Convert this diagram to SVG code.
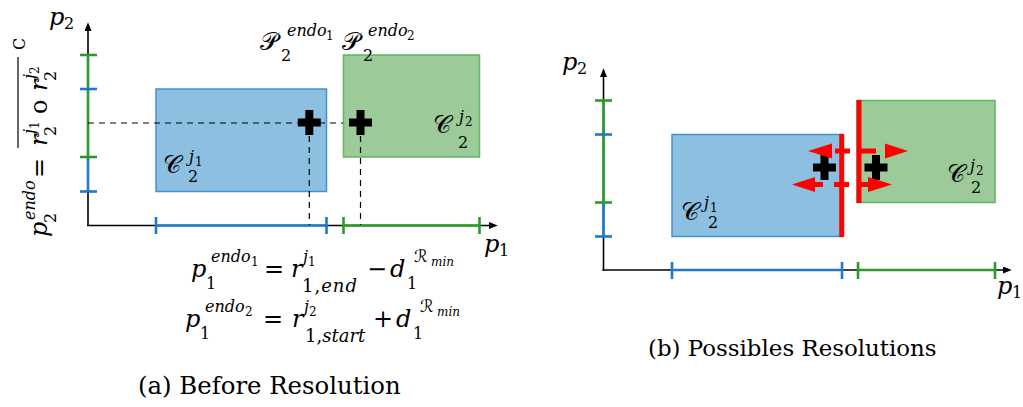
<svg xmlns="http://www.w3.org/2000/svg" width="1023" height="407" viewBox="0 0 1023 407" font-family="'DejaVu Serif', serif">
<style>
text{font-family:"DejaVu Serif","Liberation Serif",serif;fill:#000}
.i{font-style:italic;font-size:24px}
.n{font-style:normal;font-size:24px}
.s{font-size:16px}
.ss{font-size:12px}
.si{font-style:italic;font-size:16px}
.ssi{font-style:italic;font-size:12px}
.cal{font-family:"DejaVu Serif","DejaVu Sans","Noto Sans",serif;font-style:normal;font-size:25px}
.cap{font-size:24px;font-style:normal}
.ax{stroke:#000;stroke-width:1.6;fill:none}
.bl{stroke:#1f78c8;stroke-width:2.6;fill:none}
.gr{stroke:#2a9a2a;stroke-width:2.6;fill:none}
.brect{fill:#8cbfe0;stroke:#3f92d8;stroke-width:1.5}
.grect{fill:#9ccb99;stroke:#62b562;stroke-width:1.5}
.dash{stroke:#000;stroke-width:1.2;stroke-dasharray:6,5;fill:none}
.red{stroke:#ff0000;stroke-width:5;fill:none}
.rdash{stroke:#ff0000;stroke-width:5;stroke-dasharray:15,11;fill:none}
.rhead{fill:#ff0000}
</style>
<defs>
<path id="plus" d="M-11.5,-4H-4V-12.5H4V-4H11.5V4H4V12.5H-4V4H-11.5Z" fill="#000"/>
<marker id="arr" viewBox="0 0 10 8" refX="0" refY="4" markerWidth="9" markerHeight="7" markerUnits="userSpaceOnUse" orient="auto">
<path d="M0,0L10,4L0,8Z" fill="#000"/>
</marker>
</defs>

<!-- ===== Panel (a) ===== -->
<g id="a-rect-j1"><rect class="brect" x="156" y="89" width="170.5" height="102.5"/>
<text x="163" y="173" class="cal">𝒞</text><text x="189" y="162" class="si">j</text><text x="195" y="166" class="ss">1</text><text x="188" y="182" class="s">2</text></g>
<g id="a-rect-j2"><rect class="grect" x="343.5" y="55" width="136" height="102"/>
<text x="433" y="133" class="cal">𝒞</text><text x="459" y="122" class="si">j</text><text x="465" y="126" class="ss">2</text><text x="458" y="148" class="s">2</text></g>

<g id="a-axes">
<line class="ax" x1="88" y1="226" x2="88" y2="31" marker-end="url(#arr)" stroke="#555"/>
<line class="ax" x1="87" y1="225.5" x2="489" y2="225.5" marker-end="url(#arr)"/>
<line class="gr" x1="88" y1="55" x2="88" y2="157"/>
<line class="bl" x1="88" y1="157" x2="88" y2="191.5"/>
<line class="gr" x1="80" y1="55" x2="97" y2="55"/><line class="gr" x1="80" y1="157" x2="97" y2="157"/>
<line class="bl" x1="80" y1="89" x2="97" y2="89"/><line class="bl" x1="80" y1="191.5" x2="97" y2="191.5"/>
<line class="bl" x1="156" y1="225.5" x2="326.5" y2="225.5"/>
<line class="bl" x1="156" y1="217" x2="156" y2="234"/><line class="bl" x1="326.5" y1="217" x2="326.5" y2="234"/>
<line class="gr" x1="343.5" y1="225.5" x2="479.5" y2="225.5"/>
<line class="gr" x1="343.5" y1="217" x2="343.5" y2="234"/><line class="gr" x1="479.5" y1="217" x2="479.5" y2="234"/>
<text x="49" y="25" class="i">p</text><text x="64" y="29" class="s">2</text>
<text x="484" y="252" class="i">p</text><text x="499" y="256" class="s">1</text>
</g>

<g id="a-connectors">
<line class="dash" x1="88" y1="123" x2="343" y2="123"/>
<line class="dash" x1="309.3" y1="136" x2="309.3" y2="225"/>
<line class="dash" x1="360.5" y1="136" x2="360.5" y2="225"/>
</g>

<g id="a-point1"><use href="#plus" x="309.3" y="122.5"/>
<text x="260" y="50" class="cal">𝒫</text><text x="281" y="61" class="s">2</text><text x="287" y="36" class="si">endo</text><text x="326" y="40" class="ss">1</text></g>
<g id="a-point2"><use href="#plus" x="360.5" y="122.5"/>
<text x="342" y="50" class="cal">𝒫</text><text x="363" y="61" class="s">2</text><text x="368" y="36" class="si">endo</text><text x="407" y="40" class="ss">2</text></g>

<g id="a-ylabel" transform="translate(47,237) rotate(-90)">
<text x="0" y="0" class="i">p</text><text x="14" y="9" class="s">2</text><text x="17" y="-12" class="si">endo</text>
<text x="59" y="0" class="n">=</text>
<text x="91" y="0" class="i">r</text><text x="103" y="-12" class="si">j</text><text x="108" y="-8" class="ss">1</text><text x="101" y="9" class="s">2</text>
<text x="123" y="0" class="n">o</text>
<text x="146" y="0" class="i">r</text><text x="158" y="-12" class="si">j</text><text x="163" y="-8" class="ss">2</text><text x="156" y="9" class="s">2</text>
<line x1="89" y1="-29" x2="180" y2="-29" stroke="#000" stroke-width="1.2"/>
<text x="187" y="-22" class="s">C</text>
</g>

<g id="a-eq1">
<text x="191" y="277" class="i">p</text><text x="206" y="289" class="s">1</text><text x="211" y="262" class="si">endo</text><text x="251" y="266" class="ss">1</text>
<text x="264" y="277" class="n">=</text>
<text x="291" y="277" class="i">r</text><text x="303" y="262" class="si">j</text><text x="308" y="266" class="ss">1</text><text x="302" y="292" class="si" style="font-size:18px;letter-spacing:1px"><tspan font-style="normal">1,</tspan>end</text>
<text x="367" y="277" class="n">−</text>
<text x="390" y="277" class="i">d</text><text x="407" y="289" class="s">1</text><text x="414" y="262" class="cal" style="font-size:17px">ℛ</text><text x="431" y="266" class="ssi">min</text>
</g>
<g id="a-eq2">
<text x="185" y="327" class="i">p</text><text x="200" y="339" class="s">1</text><text x="205" y="312" class="si">endo</text><text x="245" y="316" class="ss">2</text>
<text x="263" y="327" class="n">=</text>
<text x="292" y="327" class="i">r</text><text x="304" y="312" class="si">j</text><text x="309" y="316" class="ss">2</text><text x="305" y="342" class="si" style="font-size:18px"><tspan font-style="normal">1,</tspan>start</text>
<text x="373" y="327" class="n">+</text>
<text x="396" y="327" class="i">d</text><text x="413" y="339" class="s">1</text><text x="420" y="312" class="cal" style="font-size:17px">ℛ</text><text x="437" y="316" class="ssi">min</text>
</g>
<text id="cap-a" x="138" y="394" class="cap" style="font-size:24.4px">(a) Before Resolution</text>

<!-- ===== Panel (b) ===== -->
<g id="b-rect-j1"><rect class="brect" x="672" y="134.5" width="170" height="102"/>
<text x="681" y="220" class="cal">𝒞</text><text x="704" y="208" class="si">j</text><text x="710" y="212" class="ss">1</text><text x="708" y="228" class="s">2</text></g>
<g id="b-rect-j2"><rect class="grect" x="857" y="100.5" width="138" height="102"/>
<text x="947" y="182" class="cal">𝒞</text><text x="970" y="171" class="si">j</text><text x="976" y="175" class="ss">2</text><text x="971" y="193" class="s">2</text></g>

<g id="b-axes">
<line class="ax" x1="603.5" y1="271" x2="603.5" y2="77" marker-end="url(#arr)"/>
<line class="ax" x1="602.5" y1="270" x2="1003" y2="270" marker-end="url(#arr)"/>
<line class="gr" x1="603.5" y1="100.5" x2="603.5" y2="202.5"/>
<line class="bl" x1="603.5" y1="202.5" x2="603.5" y2="236.5"/>
<line class="gr" x1="595" y1="100.5" x2="612" y2="100.5"/><line class="gr" x1="595" y1="202.5" x2="612" y2="202.5"/>
<line class="bl" x1="595" y1="134.5" x2="612" y2="134.5"/><line class="bl" x1="595" y1="236.5" x2="612" y2="236.5"/>
<line class="bl" x1="672" y1="270" x2="842" y2="270"/>
<line class="bl" x1="672" y1="262" x2="672" y2="279"/><line class="bl" x1="842" y1="262" x2="842" y2="279"/>
<line class="gr" x1="858" y1="270" x2="995" y2="270"/>
<line class="gr" x1="858" y1="262" x2="858" y2="279"/><line class="gr" x1="995" y1="262" x2="995" y2="279"/>
<text x="562" y="70" class="i">p</text><text x="577" y="74" class="s">2</text>
<text x="997" y="294" class="i">p</text><text x="1012" y="298" class="s">1</text>
</g>

<g id="b-points">
<use href="#plus" x="824.5" y="167.5"/>
<use href="#plus" x="876" y="167.5"/>
</g>

<g id="b-connectors">
<line class="red" x1="841.7" y1="134" x2="841.7" y2="237"/>
<line class="red" x1="859" y1="100" x2="859" y2="203"/>
<line class="rdash" x1="831" y1="151" x2="886" y2="151" stroke-dashoffset="-4"/>
<polygon class="rhead" points="808,151 832,143.5 832,158.5"/>
<polygon class="rhead" points="908,151 885,143.5 885,158.5"/>
<line class="rdash" x1="815" y1="184.5" x2="868" y2="184.5" stroke-dashoffset="7"/>
<polygon class="rhead" points="792,184.5 815,177 815,192"/>
<polygon class="rhead" points="892,184.5 868,177 868,192"/>
</g>
<text id="cap-b" x="648" y="356" class="cap" style="font-size:22.9px">(b) Possibles Resolutions</text>
</svg>
